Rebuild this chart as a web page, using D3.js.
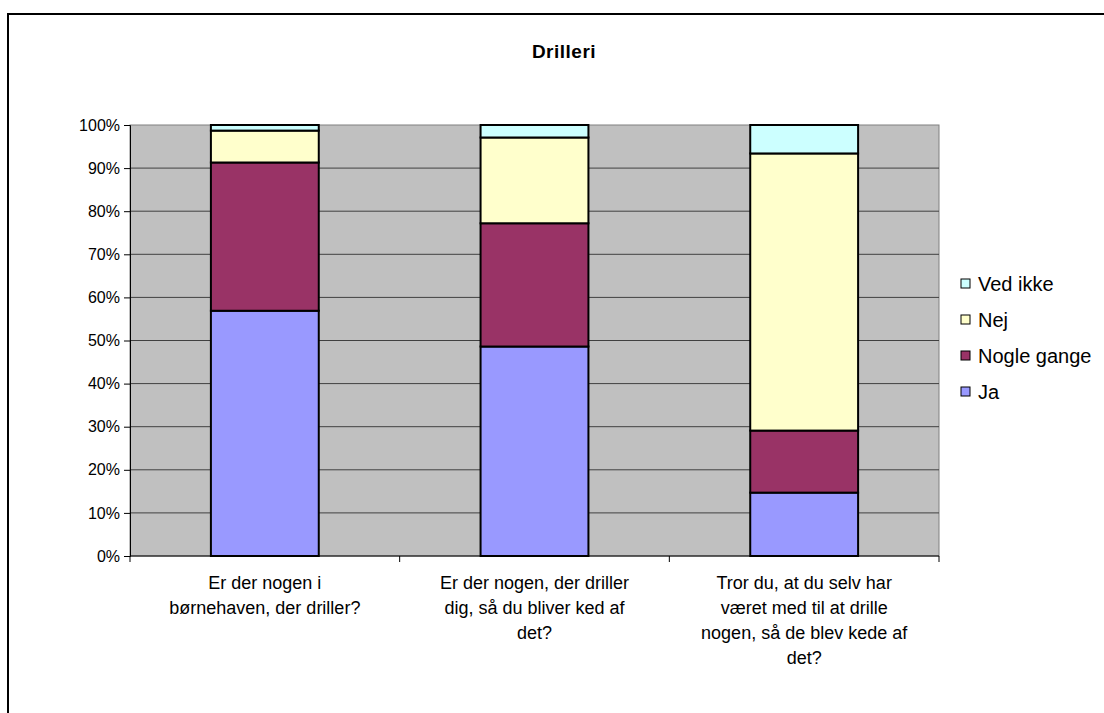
<!DOCTYPE html>
<html>
<head>
<meta charset="utf-8">
<script src="https://cdn.jsdelivr.net/npm/d3@7"></script>
<style>
  body { margin: 0; background: #fff; }
  svg { font-family: "Liberation Sans", Arial, sans-serif; }
</style>
</head>
<body>
<div class="chart"></div>
<script>
// questions along the x axis (line breaks as in the original)
const categories = [
  ['Er der nogen i', 'børnehaven, der driller?'],
  ['Er der nogen, der driller', 'dig, så du bliver ked af', 'det?'],
  ['Tror du, at du selv har', 'været med til at drille', 'nogen, så de blev kede af', 'det?']
];
const seriesNames = ['Ja', 'Nogle gange', 'Nej', 'Ved ikke'];
// shares in percent, one value per question
const ja = [56.9, 48.6, 14.7];
const nogleGange = [34.4, 28.6, 14.4];
const nej = [7.4, 19.9, 64.3];
const vedIkke = [1.3, 2.9, 6.6];
const yTicks = [0, 10, 20, 30, 40, 50, 60, 70, 80, 90, 100];

const colors = ['#9999ff', '#993366', '#ffffcc', '#ccffff'];

const svgWidth = 1104;
const svgHeight = 713;
const margin = {top: 125, right: 165, bottom: 157, left: 130};
const graphWidth = svgWidth - margin.left - margin.right;
const graphHeight = svgHeight - margin.top - margin.bottom;

const rows = categories.map((c, i) => ({
  idx: i,
  'Ja': ja[i],
  'Nogle gange': nogleGange[i],
  'Nej': nej[i],
  'Ved ikke': vedIkke[i]
}));
const stacked = d3.stack().keys(seriesNames)(rows);

const svg = d3.select('.chart')
  .append('svg')
  .attr('width', svgWidth)
  .attr('height', svgHeight);

// outer chart frame (runs off the right and bottom edges)
svg.append('rect')
  .attr('x', 8).attr('y', 14)
  .attr('width', svgWidth + 20).attr('height', svgHeight + 20)
  .attr('fill', 'none')
  .attr('stroke', '#000')
  .attr('stroke-width', 2);

svg.append('text')
  .attr('x', 564).attr('y', 58)
  .attr('text-anchor', 'middle')
  .attr('font-size', 19)
  .attr('font-weight', 'bold')
  .attr('letter-spacing', 0.5)
  .text('Drilleri');

const graph = svg.append('g')
  .attr('transform', `translate(${margin.left},${margin.top})`);

const x = d3.scaleBand()
  .domain(categories.map((c, i) => i))
  .range([0, graphWidth])
  .paddingInner(0.6)
  .paddingOuter(0.3);
const y = d3.scaleLinear().domain([0, 100]).range([graphHeight, 0]);

graph.append('rect')
  .attr('width', graphWidth)
  .attr('height', graphHeight)
  .attr('fill', '#c0c0c0')
  .attr('stroke', '#808080')
  .attr('stroke-width', 1);

// grid lines
graph.selectAll('.grid')
  .data(yTicks.filter(t => t > 0 && t < 100))
  .enter()
  .append('line')
  .attr('x1', 0).attr('x2', graphWidth)
  .attr('y1', d => y(d)).attr('y2', d => y(d))
  .attr('stroke', '#404040')
  .attr('stroke-width', 1);

// bars
graph.selectAll('.series')
  .data(stacked)
  .enter()
  .append('g')
  .attr('fill', (d, i) => colors[i])
  .selectAll('rect')
  .data(d => d)
  .enter()
  .append('rect')
  .attr('x', d => x(d.data.idx))
  .attr('y', d => y(d[1]))
  .attr('width', x.bandwidth())
  .attr('height', d => y(d[0]) - y(d[1]))
  .attr('stroke', '#000')
  .attr('stroke-width', 2);

// axes
const yAxis = d3.axisLeft(y)
  .tickValues(yTicks)
  .tickSize(6)
  .tickPadding(4)
  .tickFormat(d => d + '%');
const yAxisgroup = graph.append('g').call(yAxis);
yAxisgroup.select('.domain').attr('stroke', '#000');
yAxisgroup.selectAll('text')
  .attr('font-size', 16)
  .attr('font-family', '"Liberation Sans", Arial, sans-serif')
  .attr('fill', '#000');

const xAxisgroup = graph.append('g')
  .attr('transform', `translate(0,${graphHeight})`);
xAxisgroup.append('line')
  .attr('x1', 0).attr('x2', graphWidth)
  .attr('stroke', '#000');
const step = x.step();
xAxisgroup.selectAll('.xtick')
  .data(d3.range(categories.length + 1))
  .enter()
  .append('line')
  .attr('x1', d => d * step).attr('x2', d => d * step)
  .attr('y1', 0).attr('y2', 6)
  .attr('stroke', '#000');

xAxisgroup.selectAll('.xlabel')
  .data(categories)
  .enter()
  .append('text')
  .attr('text-anchor', 'middle')
  .attr('font-size', 18)
  .attr('transform', (d, i) => `translate(${x(i) + x.bandwidth() / 2},0)`)
  .selectAll('tspan')
  .data(d => d)
  .enter()
  .append('tspan')
  .attr('x', 0)
  .attr('y', (d, i) => 33 + i * 25)
  .text(d => d);

// legend, drawn top-down in reverse series order
const legend = svg.append('g')
  .attr('transform', 'translate(961,284)');
const legendItems = legend.selectAll('g')
  .data(seriesNames.map((n, i) => ({name: n, color: colors[i]})).reverse())
  .enter()
  .append('g')
  .attr('transform', (d, i) => `translate(0,${i * 36})`);
legendItems.append('rect')
  .attr('x', 0).attr('y', -5)
  .attr('width', 9).attr('height', 9)
  .attr('fill', d => d.color)
  .attr('stroke', '#000')
  .attr('stroke-width', 1);
legendItems.append('text')
  .attr('x', 17).attr('y', 7)
  .attr('font-size', 20)
  .text(d => d.name);
</script>
</body>
</html>
